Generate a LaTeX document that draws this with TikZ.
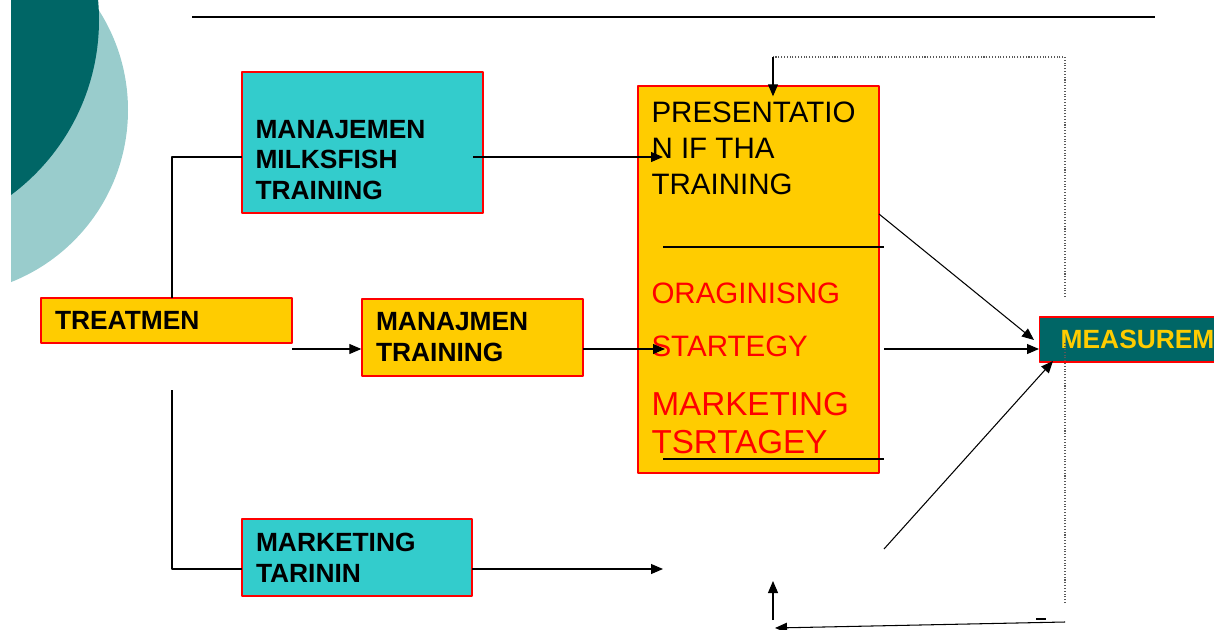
\documentclass[tikz,border=0pt]{standalone}
\usepackage{fontspec}
\setmainfont{Liberation Sans}
\usetikzlibrary{arrows.meta}
\definecolor{boxcyan}{HTML}{33CCCC}
\definecolor{boxgold}{HTML}{FFCC00}
\definecolor{darkteal}{HTML}{006666}
\definecolor{paleteal}{HTML}{99CCCC}
\begin{document}
\begin{tikzpicture}[x=0.02cm,y=-0.02cm,>={Triangle[length=0.24cm,width=0.2cm]},line join=round,line width=0.6pt,
	box/.style={draw=red,line width=0.8pt,inner ysep=0pt,inner xsep=0.28cm,align=left,font=\bfseries\fontsize{15}{17.6}\selectfont},
	cyanbox/.style={box,fill=boxcyan},
	goldbox/.style={box,fill=boxgold},
	boxtxt/.style={inner sep=0pt,anchor=west,align=left,font=\bfseries\fontsize{15}{17.6}\selectfont},
	bigtxt/.style={inner sep=0pt,anchor=west,align=left,font=\fontsize{16.8}{20.4}\selectfont},
	redtxt/.style={bigtxt,text=red},
	feedback/.style={densely dotted,gray!70!black}]
	\useasboundingbox (0,0) rectangle (1214,629);
	\clip (0,0) rectangle (1214,629);
	\begin{scope}
		\clip (11,0) rectangle (1214,629);
		\fill[paleteal] (-57,110) circle (185);
		\fill[darkteal] (-119,20) circle (218);
	\end{scope}
	\draw[line width=0.8pt] (192,17) -- (1155,17);
	% boxes
	\node[cyanbox,minimum width=4.82cm,minimum height=2.82cm] (milk) at (362.5,142.5) {};
	\node[boxtxt] (milktext) at (255,160) {MANAJEMEN\\MILKSFISH\\TRAINING};
	\node[goldbox,text width=4.46cm,minimum height=0.9cm] (treat) at (166.5,320.5) {\raisebox{-1.1pt}{TREATMEN}};
	\node[goldbox,text width=3.86cm,minimum height=1.54cm] (mgmt) at (472.5,337.5) {MANAJMEN\\TRAINING};
	\node[cyanbox,text width=4.04cm,minimum height=1.54cm] (mkt) at (357,557.5) {MARKETING\\TARININ};
	\node[goldbox,minimum width=4.82cm,minimum height=7.74cm] (pres) at (758.5,279.5) {};
	\node[bigtxt] (prestitle) at (651,148) {PRESENTATIO\\N IF THA\\TRAINING};
	\node[redtxt] (organise) at (651,293) {ORAGINISNG};
	\node[redtxt] (strategy) at (651,346) {STARTEGY};
	\node[redtxt,font=\fontsize{18.9}{21.5}\selectfont] (mktstrategy) at (651,423) {MARKETING\\TSRTAGEY};
	\node[box,fill=darkteal,text=boxgold,anchor=west,inner xsep=0.42cm,text width=3.4cm,minimum height=0.9cm] (meas) at (1039,339.5) {\raisebox{-1pt}{MEASUREM}};
	% free ends
	\coordinate (trunk) at (172,298);
	\coordinate (trunklow) at (172,390);
	\coordinate (milkin) at (242,157);
	\coordinate (mktin) at (242,569);
	\coordinate (treatout) at (292,349);
	\coordinate (milkout) at (473,157);
	\coordinate (mgmtout) at (583,349);
	\coordinate (mktout) at (472,569);
	\coordinate (presin1) at (663,157);
	\coordinate (presin2) at (665,349);
	\coordinate (presin3) at (663,569);
	\coordinate (presout) at (884,349);
	\coordinate (presne) at (879,214);
	\coordinate (lowout) at (884,549);
	\coordinate (measnw) at (1034,340);
	\coordinate (meass) at (1053,361);
	\coordinate (loopnw) at (773,57);
	\coordinate (loopne) at (1065,57);
	\coordinate (loopmid) at (1065,297);
	\coordinate (loopmid2) at (1065,343);
	\coordinate (loopse) at (1065,603);
	\coordinate (backr) at (1065,622);
	\coordinate (backl) at (775,628);
	\coordinate (upfoot) at (773,620);
	\coordinate (uptip) at (773,581);
	% inner rules of the presentation box
	\draw (663,247) -- (884,247);
	\draw (663,459) -- (884,459);
	% connectors
	\draw (trunk) |- (milkin);
	\draw (trunklow) |- (mktin);
	\draw[->] (treatout) -- (mgmt.west |- treatout);
	\draw[->] (milkout) -- (presin1);
	\draw[->] (mgmtout) -- (presin2);
	\draw[->] (mktout) -- (presin3);
	\draw[->] (presout) -- (meas.west |- presout);
	\draw[->] (presne) -- (measnw);
	\draw[->] (lowout) -- (meass);
	\draw[feedback] (loopse) -- (loopmid2);
	\draw[feedback] (loopmid) -- (loopne) -- (loopnw);
	\draw[->] (loopnw) -- (pres.north -| loopnw) -- ++(0,11);
	\draw[->] (backr) -- (backl);
	\draw[->] (upfoot) -- (uptip);
	\draw (1036,619) -- (1046,619);
\end{tikzpicture}
\end{document}
